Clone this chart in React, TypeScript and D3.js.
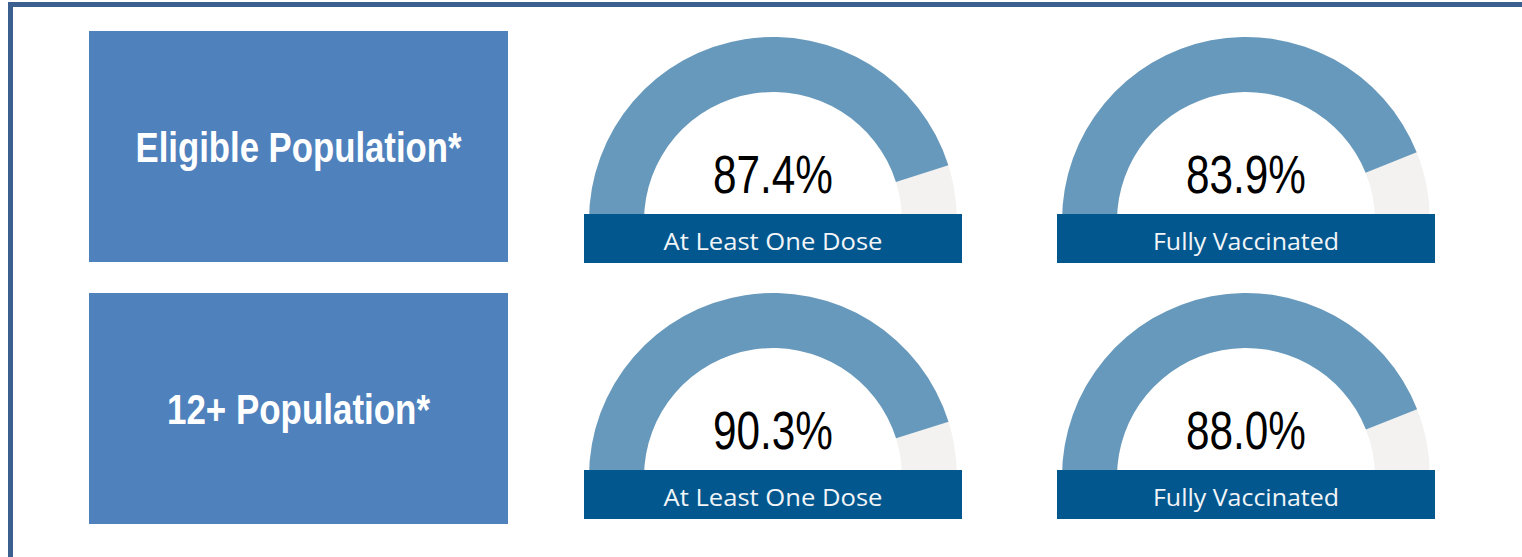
import React from 'react';
import * as d3 from 'd3';

// rows / columns of the dashboard
const rowLabels = ['Eligible Population*', '12+ Population*'];
const columnLabels = ['At Least One Dose', 'Fully Vaccinated'];

// printed values, row by row
const valueLabels = [
	['87.4%', '83.9%'],
	['90.3%', '88.0%'],
];

// how far each gauge arc is filled (%)
const gaugeFill = [
	[90.2, 87.8],
	[90.3, 88.0],
];

const W = 1522;
const H = 557;

const boxX = 89;
const boxW = 419;
const boxY = [31, 293];
const boxH = 231;

const gaugeCx = [773, 1246];
const gaugeCy = [221, 477];
const outerR = 184;
const innerR = 129;
const bannerW = 378;
const bannerH = 49;

const labelLengths = [326, 263];
const bannerLengths = [219, 186];

const App = () => {
	const angle = d3
		.scaleLinear()
		.domain([0, 100])
		.range([-Math.PI / 2, Math.PI / 2]);

	const arc = d3.arc().innerRadius(innerR).outerRadius(outerR);

	return (
		<svg
			width={W}
			height={H}
			style={{ position: 'absolute', left: 0, top: 0, background: '#fff' }}
		>
			{/* frame */}
			<rect
				x={10.5}
				y={4.5}
				width={W + 40}
				height={H + 40}
				fill='none'
				stroke='#3b5f8f'
				strokeWidth={5}
			/>

			{/* left category boxes */}
			{rowLabels.map((label, r) => (
				<g key={label}>
					<rect x={boxX} y={boxY[r]} width={boxW} height={boxH} fill='#4f81bd' />
					<text
						x={boxX + boxW / 2}
						y={boxY[r] + boxH / 2 + 15}
						textAnchor='middle'
						fill='#fff'
						fontFamily='"Liberation Sans", Arial, sans-serif'
						fontWeight='bold'
						fontSize={43}
						textLength={labelLengths[r]}
						lengthAdjust='spacingAndGlyphs'
					>
						{label}
					</text>
				</g>
			))}

			{/* gauges */}
			{rowLabels.map((_, r) =>
				columnLabels.map((col, c) => {
					const cx = gaugeCx[c];
					const cy = gaugeCy[r];
					return (
						<g key={r + '-' + c} transform={`translate(${cx},${cy})`}>
							<path
								d={arc({ startAngle: angle(0), endAngle: angle(100) } as any) || ''}
								fill='#f3f2f1'
							/>
							<path
								d={arc({ startAngle: angle(0), endAngle: angle(gaugeFill[r][c]) } as any) || ''}
								fill='#6699bc'
							/>
							<text
								x={0}
								y={-28}
								textAnchor='middle'
								fill='#000'
								fontFamily='"Liberation Sans", Arial, sans-serif'
								fontSize={54}
								textLength={120}
								lengthAdjust='spacingAndGlyphs'
							>
								{valueLabels[r][c]}
							</text>
							<rect
								x={-bannerW / 2}
								y={-7}
								width={bannerW}
								height={bannerH}
								fill='#02578e'
							/>
							<text
								x={0}
								y={29}
								textAnchor='middle'
								fill='#f2f5f8'
								fontFamily='"Open Sans", "Noto Sans", sans-serif'
								fontSize={23}
								textLength={bannerLengths[c]}
								lengthAdjust='spacingAndGlyphs'
							>
								{col}
							</text>
						</g>
					);
				})
			)}
		</svg>
	);
};

export default App;
